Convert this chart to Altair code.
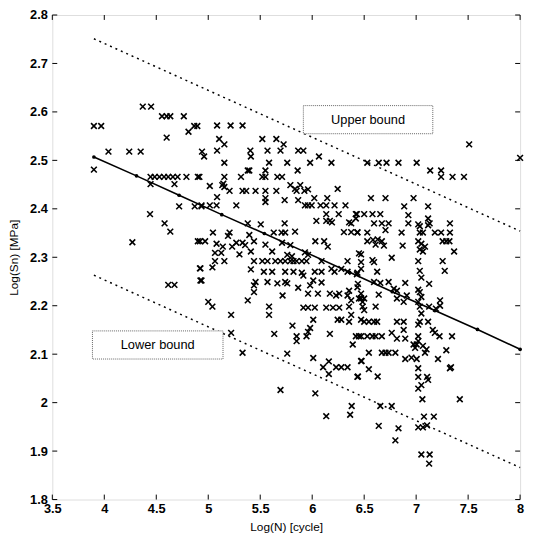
import altair as alt
import pandas as pd

# ---------------- data ----------------
pts_left = [
    (3.90, 2.571), (3.97, 2.571), (4.37, 2.611), (4.45, 2.611), (4.555, 2.591), (4.60, 2.591),
    (4.635, 2.591), (4.765, 2.591), (4.60, 2.547), (4.81, 2.559), (4.865, 2.571), (4.895, 2.571),
    (3.90, 2.481), (4.04, 2.518), (4.24, 2.518), (4.35, 2.518), (4.94, 2.518),
    (4.445, 2.466), (4.485, 2.466), (4.53, 2.466), (4.575, 2.466), (4.615, 2.466), (4.66, 2.466),
    (4.705, 2.466), (4.79, 2.466), (4.90, 2.466),
    (4.445, 2.451), (4.675, 2.451), (4.72, 2.405), (4.87, 2.405), (4.935, 2.405), (4.44, 2.389),
    (4.58, 2.370), (4.635, 2.353), (4.27, 2.331), (4.90, 2.333), (4.925, 2.277), (4.925, 2.252),
    (4.615, 2.243), (4.675, 2.243),
]
pts_upper_mid = [
    (5.085, 2.572), (5.215, 2.572), (5.33, 2.572), (5.105, 2.544), (5.155, 2.533), (5.52, 2.544),
    (5.655, 2.544), (5.725, 2.533), (4.96, 2.508), (5.085, 2.520), (5.405, 2.520), (5.41, 2.508),
    (5.57, 2.520), (5.695, 2.520), (5.865, 2.520), (5.915, 2.520), (6.065, 2.508), (5.155, 2.495),
    (5.585, 2.495), (5.76, 2.495), (5.98, 2.495), (6.185, 2.495), (5.38, 2.479), (5.395, 2.479),
    (5.55, 2.479), (5.86, 2.479), (4.915, 2.466), (5.155, 2.466), (5.315, 2.466), (5.52, 2.466),
    (5.55, 2.466), (5.665, 2.466), (5.71, 2.466), (5.015, 2.447), (5.135, 2.449), (5.155, 2.445),
    (5.145, 2.452), (5.79, 2.449), (5.835, 2.441), (5.885, 2.449), (6.245, 2.441), (5.205, 2.437),
    (5.33, 2.437), (5.365, 2.437), (5.455, 2.437), (5.55, 2.437), (5.655, 2.437), (5.85, 2.437),
    (5.925, 2.437), (5.96, 2.440), (6.02, 2.422), (6.145, 2.422), (5.55, 2.422), (5.55, 2.414),
    (5.735, 2.418), (5.865, 2.418), (5.085, 2.424), (4.935, 2.407), (5.015, 2.407), (5.08, 2.407),
    (5.27, 2.407), (5.93, 2.407), (5.96, 2.407), (5.995, 2.407), (6.08, 2.407), (6.135, 2.407),
    (6.215, 2.407), (6.32, 2.407), (6.135, 2.389), (6.255, 2.389), (6.43, 2.389), (6.375, 2.370),
    (6.42, 2.380), (6.04, 2.375), (6.135, 2.375), (6.17, 2.375), (5.38, 2.370), (5.505, 2.368),
    (5.735, 2.370),
]
pts_upper_right = [
    (7.51, 2.533), (8.0, 2.505), (6.53, 2.495), (6.64, 2.495), (6.715, 2.495), (6.83, 2.495),
    (7.005, 2.495), (7.135, 2.479), (7.24, 2.479), (7.24, 2.466), (7.35, 2.466), (7.46, 2.466),
    (6.565, 2.422), (6.705, 2.422), (6.975, 2.422), (6.885, 2.405), (7.115, 2.405), (6.42, 2.389),
    (6.50, 2.389), (6.58, 2.389), (6.655, 2.389), (6.595, 2.370), (6.67, 2.370), (6.735, 2.370),
    (6.925, 2.387), (6.925, 2.370), (7.115, 2.380), (7.115, 2.366), (7.325, 2.370), (7.035, 2.364),
]
pts_center = [
    (6.19, 2.372), (6.355, 2.372), (5.045, 2.351), (5.205, 2.351), (5.19, 2.344), (5.395, 2.346),
    (5.63, 2.351), (5.705, 2.351), (5.74, 2.351), (5.835, 2.353), (6.305, 2.352), (6.375, 2.352),
    (6.435, 2.352), (4.92, 2.333), (4.97, 2.333), (5.08, 2.328), (5.14, 2.322), (5.23, 2.322),
    (5.27, 2.330), (5.33, 2.330), (5.355, 2.325), (5.44, 2.333), (5.55, 2.326), (5.71, 2.330),
    (5.79, 2.325), (6.03, 2.333), (6.115, 2.333), (6.15, 2.322), (6.47, 2.306), (5.065, 2.309),
    (5.125, 2.309), (5.065, 2.292), (5.155, 2.292), (5.30, 2.306), (5.41, 2.312), (5.615, 2.312),
    (5.76, 2.305), (5.805, 2.302), (5.93, 2.310), (5.96, 2.305),
    (5.44, 2.292), (5.52, 2.292), (5.57, 2.292), (5.645, 2.292), (5.695, 2.292), (5.74, 2.292),
    (5.79, 2.292), (5.82, 2.292), (5.85, 2.292), (5.90, 2.292), (5.945, 2.292), (6.09, 2.292),
    (6.34, 2.292),
    (4.92, 2.277), (5.04, 2.279), (5.41, 2.275), (5.535, 2.270), (5.615, 2.270), (5.74, 2.270),
    (5.82, 2.270), (5.90, 2.268), (5.915, 2.262),
    (6.025, 2.270), (6.09, 2.270), (6.185, 2.276), (6.215, 2.270), (6.28, 2.276), (6.34, 2.270),
    (6.435, 2.268), (6.47, 2.276),
    (4.935, 2.252), (5.455, 2.249), (5.44, 2.242), (5.57, 2.249), (5.665, 2.246), (5.74, 2.249),
    (5.76, 2.246), (5.865, 2.237), (5.96, 2.225), (6.055, 2.225), (5.98, 2.242), (6.01, 2.252),
    (6.09, 2.248), (6.17, 2.225), (6.23, 2.221), (6.26, 2.225), (6.355, 2.231), (6.34, 2.221),
    (6.435, 2.238), (6.375, 2.211), (6.47, 2.215), (5.44, 2.228), (5.38, 2.211), (5.0, 2.208),
    (5.04, 2.198), (5.585, 2.198), (5.585, 2.181), (5.715, 2.221),
    (5.915, 2.196), (5.96, 2.196), (6.025, 2.196), (6.135, 2.196), (6.20, 2.196), (6.26, 2.196),
    (6.355, 2.198), (6.375, 2.181), (6.355, 2.167), (5.22, 2.181), (6.01, 2.171), (6.245, 2.171),
    (6.28, 2.171), (6.47, 2.171), (5.81, 2.159), (5.98, 2.154), (5.96, 2.146), (5.22, 2.144),
    (5.635, 2.142), (5.85, 2.137), (5.85, 2.127), (5.945, 2.137), (6.17, 2.142), (6.42, 2.137),
    (6.45, 2.137), (6.39, 2.120), (5.33, 2.103), (5.76, 2.101), (6.01, 2.092), (6.16, 2.085),
    (6.105, 2.073), (6.23, 2.073), (6.28, 2.073), (6.34, 2.073), (6.47, 2.086), (6.16, 2.059),
    (6.435, 2.053),
]
pts_low = [
    (5.695, 2.026), (6.03, 2.019), (6.38, 1.993), (6.135, 1.972), (6.365, 1.975),
    (6.63, 2.054), (7.02, 2.071), (7.02, 2.053), (7.105, 2.053), (7.115, 2.047), (7.05, 2.036),
    (7.02, 2.029), (7.325, 2.071), (7.06, 2.007), (7.42, 2.007), (6.655, 1.993), (6.765, 1.993),
    (6.64, 1.952), (6.83, 1.947), (6.80, 1.922), (7.075, 1.971), (7.17, 1.971), (7.02, 1.949),
    (7.065, 1.949), (7.105, 1.953), (7.05, 1.893), (7.13, 1.893), (7.125, 1.874),
]
pts_right = [
    (7.02, 2.368), (7.13, 2.370),
    (6.435, 2.351), (6.53, 2.351), (6.705, 2.356), (6.86, 2.351), (7.035, 2.351), (7.065, 2.351),
    (7.18, 2.351), (7.24, 2.351), (7.325, 2.351),
    (6.53, 2.333), (6.585, 2.336), (6.63, 2.337), (6.67, 2.333), (6.61, 2.326), (6.69, 2.324),
    (6.87, 2.324), (7.02, 2.333), (7.05, 2.328), (7.085, 2.322), (7.035, 2.316), (7.065, 2.312),
    (7.255, 2.333), (7.29, 2.333), (7.32, 2.333), (7.365, 2.312),
    (6.45, 2.308), (6.47, 2.290), (6.58, 2.294), (6.595, 2.290), (6.765, 2.299), (7.02, 2.292),
    (7.035, 2.272), (7.255, 2.292), (7.275, 2.272), (6.625, 2.270), (6.43, 2.265), (6.44, 2.245),
    (7.05, 2.258), (6.595, 2.249), (6.655, 2.247), (6.735, 2.249), (6.785, 2.235), (6.815, 2.231),
    (6.895, 2.247), (7.125, 2.245),
    (7.02, 2.233), (7.035, 2.228), (7.05, 2.218), (7.02, 2.208), (7.035, 2.198), (7.05, 2.184),
    (7.035, 2.167), (7.02, 2.161),
    (6.91, 2.221), (6.64, 2.223), (6.47, 2.225), (6.50, 2.215), (6.45, 2.215), (6.485, 2.208),
    (6.815, 2.215), (6.88, 2.208), (7.125, 2.198), (7.19, 2.194), (7.23, 2.200), (7.23, 2.211),
    (6.485, 2.198), (6.50, 2.191), (6.61, 2.198),
    (6.50, 2.167), (6.545, 2.167), (6.595, 2.167), (6.625, 2.167), (6.815, 2.167), (6.88, 2.167),
    (6.88, 2.150), (7.115, 2.167), (7.16, 2.150), (7.18, 2.144), (7.225, 2.137),
    (6.47, 2.137), (6.53, 2.137), (6.58, 2.137), (6.61, 2.137), (6.67, 2.137), (6.765, 2.144),
    (6.815, 2.132), (6.895, 2.132), (7.02, 2.137), (7.02, 2.127), (7.345, 2.137),
    (6.975, 2.120), (7.005, 2.120), (7.065, 2.117), (7.10, 2.110), (7.085, 2.103), (6.99, 2.113),
    (7.29, 2.108), (6.545, 2.103), (6.67, 2.103), (6.705, 2.103), (6.735, 2.103), (6.80, 2.103),
    (6.475, 2.086), (6.895, 2.090), (6.955, 2.093), (7.005, 2.090), (7.21, 2.090), (6.545, 2.069),
    (7.335, 2.073), (6.44, 2.054),
]

mean_x = [3.9, 4.31, 4.72, 5.13, 5.54, 5.95, 6.36, 6.77, 7.18, 7.59, 8.0]
mean_y = [2.507, 2.468, 2.428, 2.388, 2.349, 2.309, 2.269, 2.229, 2.190, 2.151, 2.110]
bound_x = [3.9, 8.0]
upper_y = [2.751, 2.354]
lower_y = [2.263, 1.866]

box_labels = ["Upper bound", "Lower bound"]
box_x1 = [5.915, 3.886]
box_x2 = [7.16, 5.142]
box_y1 = [2.555, 2.090]
box_y2 = [2.613, 2.148]

x_ticks = [3.5, 4, 4.5, 5, 5.5, 6, 6.5, 7, 7.5, 8]
y_ticks = [1.8, 1.9, 2.0, 2.1, 2.2, 2.3, 2.4, 2.5, 2.6, 2.7, 2.8]

# ---------------- build tables ----------------
all_pts = pts_left + pts_upper_mid + pts_upper_right + pts_center + pts_low + pts_right
df_pts = pd.DataFrame(all_pts, columns=["x", "y"])
df_mean = pd.DataFrame({"x": mean_x, "y": mean_y})
df_up = pd.DataFrame({"x": bound_x, "y": upper_y})
df_lo = pd.DataFrame({"x": bound_x, "y": lower_y})
df_box = pd.DataFrame({"label": box_labels, "x": box_x1, "x2": box_x2, "y": box_y1, "y2": box_y2})
df_box["xc"] = (df_box["x"] + df_box["x2"]) / 2
df_box["yc"] = (df_box["y"] + df_box["y2"]) / 2
df_xt = pd.DataFrame({"x": x_ticks})
df_yt = pd.DataFrame({"y": y_ticks})

W, H = 475, 492
FONT = "Liberation Sans"
xs = alt.Scale(domain=[3.5, 8], nice=False, zero=False)
ys = alt.Scale(domain=[1.8, 2.8], nice=False, zero=False)

x_axis = alt.Axis(values=x_ticks, format="~g", title="Log(N) [cycle]", grid=False,
                  domain=False, ticks=False, labelPadding=3, titlePadding=6,
                  labelFont=FONT, titleFont=FONT, labelFontSize=13, titleFontSize=12,
                  labelFontWeight="bold", labelColor="black", titleColor="black",
                  titleFontWeight="normal", labelFlush=False)
y_axis = alt.Axis(values=y_ticks, format="~g", title="Log(Sn) [MPa]", grid=False,
                  domain=False, ticks=False, labelPadding=5, titlePadding=9,
                  labelFont=FONT, titleFont=FONT, labelFontSize=13, titleFontSize=12,
                  labelFontWeight="bold", labelColor="black", titleColor="black",
                  titleFontWeight="normal", labelFlush=False)


def X(field):
    return alt.X(field, type="quantitative", scale=xs, axis=x_axis)


def Y(field):
    return alt.Y(field, type="quantitative", scale=ys, axis=y_axis)


points = alt.Chart(df_pts).mark_point(
    shape="M-1,-1L1,1M-1,1L1,-1", filled=False, color="black", strokeWidth=1.6, size=34, opacity=1
).encode(x=X("x"), y=Y("y"))

mean_line = alt.Chart(df_mean).mark_line(color="black", strokeWidth=1.6).encode(x=X("x"), y=Y("y"))
mean_dots = alt.Chart(df_mean).mark_circle(color="black", size=14, opacity=1).encode(x=X("x"), y=Y("y"))

upper = alt.Chart(df_up).mark_line(color="black", strokeWidth=1.5, strokeDash=[2, 4]).encode(x=X("x"), y=Y("y"))
lower = alt.Chart(df_lo).mark_line(color="black", strokeWidth=1.5, strokeDash=[2, 4]).encode(x=X("x"), y=Y("y"))

boxes = alt.Chart(df_box).mark_rect(fill="white", stroke="#666", strokeWidth=1, strokeDash=[1, 1]).encode(
    x=X("x"), x2="x2:Q", y=Y("y"), y2="y2:Q")
box_text = alt.Chart(df_box).mark_text(font=FONT, fontSize=13, color="black").encode(
    x=X("xc"), y=Y("yc"), text="label:N")

tick_b = alt.Chart(df_xt).mark_rule(color="black", strokeWidth=1).encode(
    x=X("x"), y=alt.value(H), y2=alt.value(H - 5))
tick_t = alt.Chart(df_xt).mark_rule(color="black", strokeWidth=1).encode(
    x=X("x"), y=alt.value(0), y2=alt.value(5))
tick_l = alt.Chart(df_yt).mark_rule(color="black", strokeWidth=1).encode(
    y=Y("y"), x=alt.value(0), x2=alt.value(5))
tick_r = alt.Chart(df_yt).mark_rule(color="black", strokeWidth=1).encode(
    y=Y("y"), x=alt.value(W), x2=alt.value(W - 5))

chart = alt.layer(
    points, upper, lower, mean_line, mean_dots, boxes, box_text, tick_b, tick_t, tick_l, tick_r
).properties(
    width=W, height=H,
    autosize=alt.AutoSizeParams(type="none"),
    padding={"left": 45, "top": 3, "right": 7, "bottom": 38},
).configure_view(stroke="black", strokeWidth=1.5).configure(background="white")

chart.save("out.html", embed_options={"renderer": "svg", "actions": False})
